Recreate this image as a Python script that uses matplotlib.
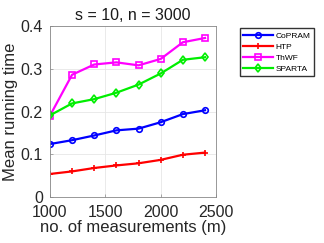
import matplotlib
matplotlib.use("Agg")
import matplotlib.pyplot as plt

# data
m = [1000, 1200, 1400, 1600, 1800, 2000, 2200, 2400]
copram = [0.124, 0.133, 0.144, 0.156, 0.160, 0.175, 0.194, 0.203]
htp = [0.054, 0.060, 0.068, 0.074, 0.079, 0.087, 0.099, 0.104]
thwf = [0.190, 0.286, 0.310, 0.315, 0.308, 0.323, 0.362, 0.372]
sparta = [0.191, 0.219, 0.229, 0.244, 0.263, 0.289, 0.321, 0.327]

plt.rcParams["font.family"] = ["Liberation Sans", "DejaVu Sans"]
fig = plt.figure(figsize=(3.24, 2.43), dpi=100)
ax = fig.add_axes([0.154, 0.189, 0.513, 0.704])

ax.plot(m, copram, color="blue", marker="o", ms=4, mfc="none", mew=1.2, lw=1.6, label="CoPRAM")
ax.plot(m, htp, color="red", marker="+", ms=4, mew=1.2, lw=1.6, label="HTP")
ax.plot(m, thwf, color="magenta", marker="s", ms=3.8, mfc="none", mew=1.2, lw=1.6, label="ThWF")
ax.plot(m, sparta, color="#00ee00", marker="d", ms=4.5, mfc="none", mew=1.2, lw=1.6, label="SPARTA")

ax.set_xlim(1000, 2500)
ax.set_ylim(0, 0.4)
ax.set_xticks([1000, 1500, 2000, 2500])
ax.set_yticks([0, 0.1, 0.2, 0.3, 0.4])
ax.set_yticklabels(["0", "0.1", "0.2", "0.3", "0.4"])
ax.grid(True, color="#e6e6e6", lw=0.6)
ax.set_axisbelow(True)
for s in ax.spines.values():
    s.set_color("#888888")
    s.set_linewidth(0.6)
ax.tick_params(direction="in", length=2, width=0.5, colors="#888888", labelcolor="#262626", labelsize=11.5)
ax.tick_params(axis="x", pad=6)
ax.tick_params(axis="y", pad=5)

ax.set_title("s = 10, n = 3000", fontsize=11.5, color="#1a1a1a", pad=4)
ax.set_xlabel("no. of measurements (m)", fontsize=12, color="#262626", labelpad=0)
ax.set_ylabel("Mean running time", fontsize=12, color="#262626", labelpad=2)

fig.legend(loc="upper left", bbox_to_anchor=(0.728, 0.9), fontsize=6,
           fancybox=False, edgecolor="#333333", framealpha=1, borderpad=0.4,
           handlelength=3.5, labelspacing=0.4, handletextpad=0.4)

fig.savefig("out.png", dpi=100)
